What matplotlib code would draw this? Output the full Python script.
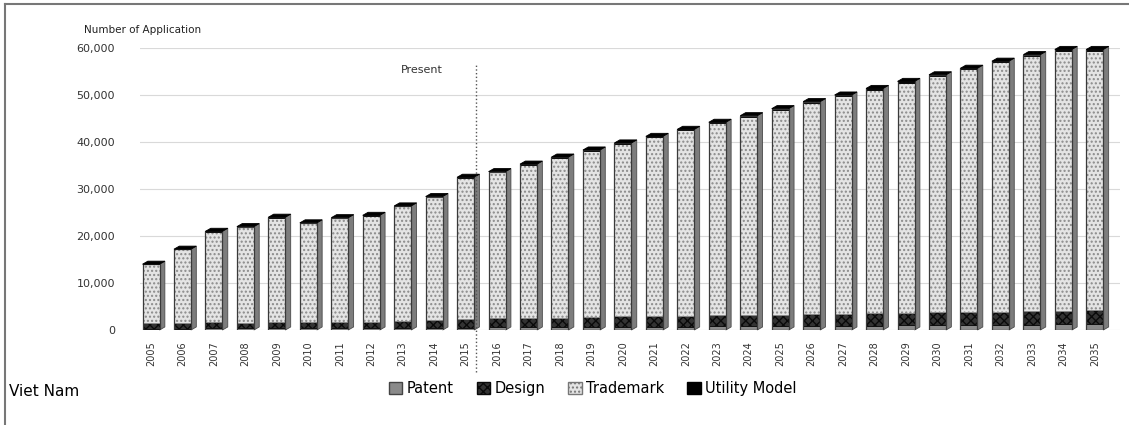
import matplotlib
matplotlib.use('Agg')
import matplotlib.pyplot as plt
from matplotlib.patches import Polygon, Patch
from matplotlib.lines import Line2D

years = [str(y) for y in range(2005, 2036)]
patent = [300, 320, 350, 330, 380, 370, 380, 400, 420, 450, 500, 550, 580, 610, 640, 680,
          710, 740, 780, 810, 850, 880, 920, 950, 990, 1030, 1070, 1110, 1150, 1190, 1230]
design = [1100, 1150, 1300, 1200, 1400, 1350, 1350, 1400, 1500, 1700, 1800, 1900, 2000, 2050, 2100, 2200,
          2250, 2300, 2350, 2400, 2450, 2500, 2550, 2600, 2650, 2700, 2750, 2800, 2850, 2900, 2950]
trademark = [12550, 15670, 19290, 20410, 22150, 21010, 22100, 22520, 24400, 26160, 30100, 31140, 32600,
             34010, 35420, 36770, 38080, 39490, 40890, 42200, 43600, 45010, 46310, 47620, 49020, 50320,
             51620, 53020, 54320, 55320, 55220]
utility = [50, 60, 60, 60, 70, 70, 70, 80, 80, 90, 100, 110, 120, 130, 140, 150,
           160, 170, 180, 190, 200, 210, 220, 230, 240, 250, 260, 270, 280, 290, 300]

fig = plt.figure(figsize=(11.29, 4.25), dpi=100)
ax = fig.add_axes([0.124, 0.2235, 0.868, 0.6635])

x = list(range(len(years)))
w = 0.54
dx, dy = 0.17, 650  # fake 3D depth

totals = [p + d + t + u for p, d, t, u in zip(patent, design, trademark, utility)]

# side faces (drawn first so the front sits on top)
for xi, tot in zip(x, totals):
    r = xi + w / 2
    ax.add_patch(Polygon([(r, 0), (r + dx, dy), (r + dx, tot + dy), (r, tot)],
                         closed=True, facecolor='#7d7d7d', edgecolor='#4a4a4a', lw=0.6,
                         zorder=2, clip_on=False))

b1 = [0] * len(x)
b2 = patent
b3 = [p + d for p, d in zip(patent, design)]
b4 = [p + d + t for p, d, t in zip(patent, design, trademark)]

ax.bar(x, patent, w, bottom=b1, color='#8a8a8a', edgecolor='#444444', lw=0.6, zorder=3)
ax.bar(x, design, w, bottom=b2, color='#333333', edgecolor='#0a0a0a', hatch='xxxx', lw=0.6, zorder=3)
ax.bar(x, trademark, w, bottom=b3, color='#e4e4e4', edgecolor='#8a8a8a', hatch='....', lw=0.6, zorder=3)
ax.bar(x, utility, w, bottom=b4, color='black', edgecolor='black', lw=0.6, zorder=3)
# outline of front face
ax.bar(x, totals, w, fill=False, edgecolor='#3a3a3a', lw=0.9, zorder=4)

# top caps
for xi, tot in zip(x, totals):
    l, r = xi - w / 2, xi + w / 2
    ax.add_patch(Polygon([(l, tot), (r, tot), (r + dx, tot + dy), (l + dx, tot + dy)],
                         closed=True, facecolor='black', edgecolor='black', lw=0.6,
                         zorder=5, clip_on=False))

ax.set_xlim(-0.35, 30.8)
ax.set_ylim(0, 60000)
ax.set_yticks(range(0, 60001, 10000))
ax.set_yticklabels([f'{v:,}' for v in range(0, 60001, 10000)], fontsize=8, color='#333333')
ax.set_xticks(x)
ax.set_xticklabels(years, rotation=90, fontsize=7, color='#333333')
ax.tick_params(length=0, pad=8)
ax.tick_params(axis='y', pad=18)
ax.grid(axis='y', color='#d9d9d9', lw=0.8)
ax.set_axisbelow(True)
for s in ax.spines.values():
    s.set_visible(False)

# Present marker
ax.plot([10.33, 10.33], [-9000, 56500], ls=':', color='#555555', lw=1, clip_on=False, zorder=6)
ax.text(8.6, 55300, 'Present', fontsize=8, color='#333333', ha='center', va='center')

fig.text(0.074, 0.93, 'Number of Application', fontsize=7.5, color='#222222', va='center')
fig.text(0.008, 0.078, 'Viet Nam', fontsize=11, color='black', va='center')

handles = [Patch(facecolor='#8a8a8a', edgecolor='#444444'),
           Patch(facecolor='#333333', edgecolor='#0a0a0a', hatch='xxxx'),
           Patch(facecolor='#e4e4e4', edgecolor='#777777', hatch='....'),
           Patch(facecolor='black', edgecolor='black')]
fig.legend(handles, ['Patent', 'Design', 'Trademark', 'Utility Model'], loc='center',
           bbox_to_anchor=(0.525, 0.085), ncol=4, frameon=False, fontsize=10.5,
           handlelength=0.9, handleheight=0.9, handletextpad=0.3, columnspacing=1.6)

# frame lines
fig.add_artist(Line2D([0.0045, 0.0045], [0, 0.99], color='#777777', lw=1.5))
fig.add_artist(Line2D([0.0045, 1], [0.99, 0.99], color='#777777', lw=1.5))

fig.savefig('out.png', dpi=100)
